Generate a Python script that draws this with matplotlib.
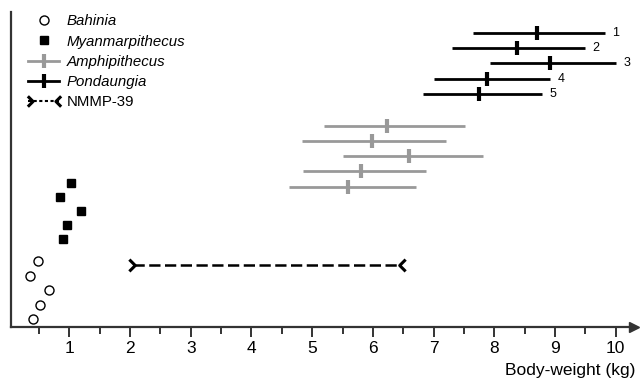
import numpy as np
import matplotlib
matplotlib.use('Agg')
import matplotlib.pyplot as plt
import matplotlib.lines as mlines
from matplotlib.legend_handler import HandlerLine2D

plt.rcParams['font.family'] = ['Liberation Sans', 'DejaVu Sans']

# Bahinia (open circles)
bahinia_x = [0.49, 0.36, 0.66, 0.51, 0.41]
bahinia_y = [4.37, 3.40, 2.45, 1.48, 0.53]

# Myanmarpithecus (black squares)
myanmar_x = [1.02, 0.85, 1.19, 0.97, 0.89]
myanmar_y = [9.56, 8.63, 7.70, 6.77, 5.85]

# Amphipithecus (grey ranges)
amphi_lo = [5.20, 4.84, 5.51, 4.85, 4.62]
amphi_mid = [6.23, 5.99, 6.59, 5.80, 5.59]
amphi_hi = [7.51, 7.21, 7.82, 6.88, 6.71]
amphi_y = [13.3, 12.3, 11.3, 10.3, 9.3]

# Pondaungia (black ranges)
pond_lo = [7.65, 7.31, 7.93, 7.01, 6.83]
pond_mid = [8.70, 8.37, 8.91, 7.88, 7.74]
pond_hi = [9.82, 9.49, 10.01, 8.92, 8.79]
pond_y = [19.5, 18.5, 17.5, 16.4, 15.4]
pond_labels = ['1', '2', '3', '4', '5']

# NMMP-39
nmmp_lo, nmmp_hi, nmmp_y = 2.05, 6.47, 4.09

grey = '#999999'
axcol = '#333333'

# chevron end markers for the NMMP-39 range
chev_r = [(-0.7, 1.0), (0.3, 0.0), (-0.7, -1.0)]
chev_l = [(0.7, 1.0), (-0.3, 0.0), (0.7, -1.0)]

fig = plt.figure(figsize=(6.44, 3.84), dpi=100)
ax = fig.add_axes([0.0166, 0.1484, 0.9679, 0.8203])

ax.plot(bahinia_x, bahinia_y, 'o', mfc='white', mec='black', ms=6.5, mew=1.0, ls='none')
ax.plot(myanmar_x, myanmar_y, 's', color='black', ms=5.2, ls='none')

ax.hlines(amphi_y, amphi_lo, amphi_hi, color=grey, lw=2.0)
ax.plot(amphi_mid, amphi_y, '|', color=grey, ms=10, mew=3.0, ls='none')

ax.hlines(pond_y, pond_lo, pond_hi, color='black', lw=2.0)
ax.plot(pond_mid, pond_y, '|', color='black', ms=10, mew=3.0, ls='none')
for hi, y, lab in zip(pond_hi, pond_y, pond_labels):
    ax.text(hi + 0.12, y, lab, fontsize=9, va='center', ha='left')

ax.plot([nmmp_lo, nmmp_hi], [nmmp_y, nmmp_y], color='black', lw=1.8, ls=(0, (4.5, 1.8)))
ax.plot([nmmp_lo], [nmmp_y], marker=chev_r, mfc='none', mec='black', mew=2.2, ms=8.5, ls='none')
ax.plot([nmmp_hi], [nmmp_y], marker=chev_l, mfc='none', mec='black', mew=2.2, ms=8.5, ls='none')

ax.set_xlim(0.035, 10.30)
ax.set_ylim(0, 20.86)

for s in ['top', 'right']:
    ax.spines[s].set_visible(False)
for s in ['left', 'bottom']:
    ax.spines[s].set_linewidth(1.6)
    ax.spines[s].set_color(axcol)
ax.plot(1, 0, '>', color=axcol, ms=7, transform=ax.transAxes, clip_on=False)

ax.set_yticks([])
ax.set_xticks(np.arange(1, 11))
ax.set_xticks(np.arange(0.5, 10, 1.0), minor=True)
ax.tick_params(axis='x', which='major', direction='out', length=7.5, width=1.4,
               color=axcol, labelsize=12.5, pad=2.5)
ax.tick_params(axis='x', which='minor', direction='out', length=5, width=1.4, color=axcol)

fig.text(0.987, 0.035, 'Body-weight (kg)', fontsize=12.5, ha='right', va='center')

h_bah = mlines.Line2D([], [], marker='o', mfc='white', mec='black', ms=6.5, ls='none')
h_mya = mlines.Line2D([], [], marker='s', color='black', ms=5.2, ls='none')
h_amp = mlines.Line2D([], [], color=grey, lw=2.0, marker='|', ms=10, mew=3.0)
h_pon = mlines.Line2D([], [], color='black', lw=2.0, marker='|', ms=10, mew=3.0)
h_nm_line = mlines.Line2D([], [], color='black', lw=1.5, ls=(0, (1.5, 1.2)))
h_nm_l = mlines.Line2D([], [], marker=chev_r, ms=7.5)
h_nm_r = mlines.Line2D([], [], marker=chev_l, ms=7.5)

class HandlerEnds(HandlerLine2D):
    def __init__(self, side, **kw):
        super().__init__(**kw)
        self.side = side
    def create_artists(self, legend, orig_handle, xdescent, ydescent, width, height, fontsize, trans):
        x = -xdescent + (2 if self.side == 'l' else width - 2)
        y = (height - ydescent) / 2
        art = mlines.Line2D([x], [y], marker=orig_handle.get_marker(), mfc='none', mec='black',
                            mew=2.2, ms=orig_handle.get_markersize(), ls='none')
        art.set_transform(trans)
        return [art]

leg = ax.legend([h_bah, h_mya, h_amp, h_pon, (h_nm_line, h_nm_l, h_nm_r)],
                ['Bahinia', 'Myanmarpithecus', 'Amphipithecus', 'Pondaungia', 'NMMP-39'],
                handler_map={h_nm_l: HandlerEnds('l'), h_nm_r: HandlerEnds('r')},
                loc='upper left', bbox_to_anchor=(0.018, 1.012), frameon=False,
                fontsize=10.8, handlelength=2.1, handletextpad=0.5, labelspacing=0.42,
                borderaxespad=0)
for t in leg.get_texts()[:4]:
    t.set_style('italic')

fig.savefig('out.png', dpi=100)
